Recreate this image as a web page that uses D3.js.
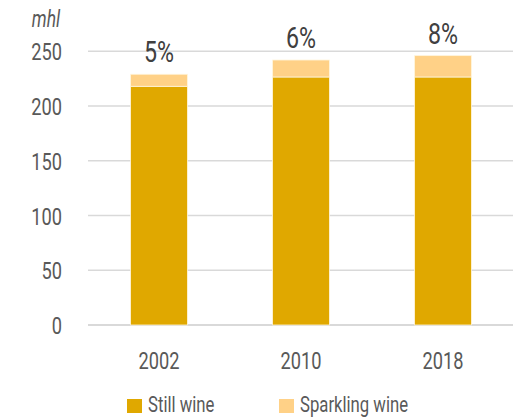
<!DOCTYPE html>
<html><head><meta charset="utf-8">
<script src="https://cdn.jsdelivr.net/npm/d3@7/dist/d3.min.js"></script>
<style>
body{margin:0;background:#fff;}
text{font-family:"Roboto","Liberation Sans",sans-serif;}
</style></head>
<body><svg id="c" width="513" height="418"></svg>
<script>
const years = ["2002","2010","2018"];
const stillWine = [218, 226.5, 226.5];
const sparklingWine = [11, 15.5, 19.5];
const shareLabels = ["5%","6%","8%"];
const yTicks = [0,50,100,150,200,250];
const seriesNames = ["Still wine","Sparkling wine"];
const colors = ["#E0A800","#FFD187"];

const SX = 0.76; // condensed look
const svg = d3.select("#c");
const m = {left:88, top:51.25, bottom:325};
const x = d3.scaleBand().domain(years).range([m.left, 514]).paddingInner(0.6).paddingOuter(0.3);
const y = d3.scaleLinear().domain([0,250]).range([m.bottom, m.top]);

// grid
svg.append("g").selectAll("line").data(yTicks).join("line")
  .attr("x1", m.left).attr("x2", 513)
  .attr("y1", d=>y(d)).attr("y2", d=>y(d))
  .attr("stroke", "#d9d9d9").attr("stroke-width", d=>d===0?2:1.5);

// y axis labels
const yAxis = d3.axisLeft(y).tickValues(yTicks).tickSize(0).tickPadding(0);
const ga = svg.append("g").attr("transform","translate(62,0)").call(yAxis);
ga.select(".domain").remove();
ga.selectAll("text").attr("x",0).attr("font-size",24).attr("fill","#595959").attr("dy","0.36em")
  .attr("transform",`scale(${SX},1)`).style("font-family","Roboto");

svg.append("text").attr("transform",`translate(46,27) scale(${SX},1)`).attr("text-anchor","middle")
  .attr("font-size",23).attr("font-style","italic").attr("fill","#595959").text("mhl");

// stacked data
const rows = years.map((yr,i)=>({year:yr, still:stillWine[i], sparkling:sparklingWine[i]}));
const stack = d3.stack().keys(["still","sparkling"])(rows);
svg.append("g").selectAll("g").data(stack).join("g")
  .attr("fill",(d,i)=>colors[i])
  .selectAll("rect").data(d=>d).join("rect")
  .attr("x", d=>x(d.data.year)).attr("width", x.bandwidth())
  .attr("y", d=>y(d[1])).attr("height", d=>y(d[0])-y(d[1]))
  .attr("stroke","#fff5dc").attr("stroke-width",0.8);

// x labels
const xAxis = d3.axisBottom(x).tickSize(0).tickPadding(0);
const gx = svg.append("g").attr("transform","translate(0,369)").call(xAxis);
gx.select(".domain").remove();
gx.selectAll("text").attr("y",0).attr("font-size",24).attr("fill","#595959").attr("dy",0)
  .attr("transform",`scale(${SX},1)`).style("font-family","Roboto");

// share labels
svg.append("g").selectAll("text").data(rows).join("text")
  .attr("transform", d=>`translate(${x(d.year)+x.bandwidth()/2},${y(d.still+d.sparkling)-12}) scale(0.8,1)`)
  .attr("text-anchor","middle").attr("font-size",29).attr("fill","#404040")
  .text((d,i)=>shareLabels[i]);

// legend
const legX = [127, 279];
const lg = svg.append("g").selectAll("g").data(seriesNames).join("g")
  .attr("transform",(d,i)=>`translate(${legX[i]},399)`);
lg.append("rect").attr("width",15).attr("height",14).attr("fill",(d,i)=>colors[i]);
lg.append("text").attr("transform",`translate(21,13) scale(${SX},1)`).attr("font-size",22).attr("fill","#595959").text(d=>d);
</script></body></html>
